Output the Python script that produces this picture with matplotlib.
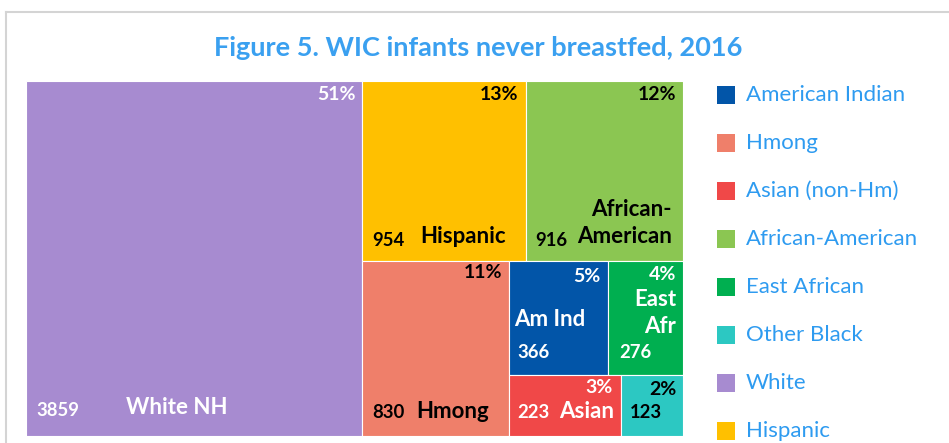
import matplotlib
matplotlib.use("Agg")
import matplotlib.pyplot as plt
from matplotlib.patches import Rectangle
from matplotlib.lines import Line2D

plt.rcParams['font.family'] = ['Lato', 'DejaVu Sans']

# data
groups = ["White", "Hispanic", "African-American", "Hmong",
          "American Indian", "East African", "Asian (non-Hm)", "Other Black"]
counts = [3859, 954, 916, 830, 366, 276, 223, 123]
box_names = ["White NH", "Hispanic", "African-\nAmerican", "Hmong",
             "Am Ind", "East\nAfr", "Asian", ""]
colors = ["#A78BD0", "#FFC000", "#8BC652", "#EF7F6A",
          "#0255A8", "#00AF50", "#F04848", "#2CC8C2"]
text_cols = ["white", "black", "black", "black",
             "white", "white", "white", "black"]
legend_order = ["American Indian", "Hmong", "Asian (non-Hm)", "African-American",
                "East African", "Other Black", "White", "Hispanic"]

FW, FH = 949, 443
fig = plt.figure(figsize=(FW / 100, FH / 100), dpi=100)

# treemap area in pixels
L, T, R, B = 26, 81, 683, 436
W, H = R - L, B - T
ax = fig.add_axes([L / FW, 1 - B / FH, W / FW, H / FH])
ax.set_xlim(0, W)
ax.set_ylim(H, 0)
ax.axis("off")

v = dict(zip(groups, counts))
total = sum(counts)

# slice layout
rects = {}
wh_w = W * v["White"] / total
rects["White"] = (0, 0, wh_w, H)
rest = total - v["White"]
top = v["Hispanic"] + v["African-American"]
top_h = H * top / rest
hisp_w = (W - wh_w) * v["Hispanic"] / top
rects["Hispanic"] = (wh_w, 0, wh_w + hisp_w, top_h)
rects["African-American"] = (wh_w + hisp_w, 0, W, top_h)
bottom = rest - top
hm_w = (W - wh_w) * v["Hmong"] / bottom
rects["Hmong"] = (wh_w, top_h, wh_w + hm_w, H)
small = bottom - v["Hmong"]
sx = wh_w + hm_w
sw = W - sx
s_top = v["American Indian"] + v["East African"]
s_top_h = (H - top_h) * s_top / small
ai_w = sw * v["American Indian"] / s_top
rects["American Indian"] = (sx, top_h, sx + ai_w, top_h + s_top_h)
rects["East African"] = (sx + ai_w, top_h, W, top_h + s_top_h)
s_bot = v["Asian (non-Hm)"] + v["Other Black"]
as_w = sw * v["Asian (non-Hm)"] / s_bot
rects["Asian (non-Hm)"] = (sx, top_h + s_top_h, sx + as_w, H)
rects["Other Black"] = (sx + as_w, top_h + s_top_h, W, H)

# label offsets: pct (from top-right), number (from bottom-left), name anchor
pct_off = {"White": (6, 14), "Hispanic": (7, 14), "African-American": (7, 14),
           "Hmong": (6, 11), "American Indian": (8, 15), "East African": (7, 13),
           "Asian (non-Hm)": (8, 13), "Other Black": (7, 15)}
num_off = {"White": (10, 26), "Hispanic": (10, 21), "African-American": (10, 21),
           "Hmong": (10, 23), "American Indian": (9, 22), "East African": (11, 22),
           "Asian (non-Hm)": (9, 23), "Other Black": (9, 24)}
# name: (x, y, ha) relative; x from left or right depending on ha
name_off = {"White": (100, 28, "left"), "Hispanic": (58, 25, "left"),
            "African-American": (11, 38, "right"), "Hmong": (54, 24, "left"),
            "American Indian": (6, 55, "left"), "East African": (7, 62, "right"),
            "Asian (non-Hm)": (7, 25, "right"), "Other Black": (0, 0, "left")}

for g, c, tc, nm in zip(groups, colors, text_cols, box_names):
    x0, y0, x1, y1 = rects[g]
    ax.add_patch(Rectangle((x0, y0), x1 - x0, y1 - y0, facecolor=c,
                           edgecolor="white", linewidth=0.8))
    pct = round(v[g] / total * 100)
    px, py = pct_off[g]
    ax.text(x1 - px, y0 + py, f"{pct}%", ha="right", va="center",
            color=tc, fontsize=14, fontweight="bold")
    nx, ny = num_off[g]
    ax.text(x0 + nx, y1 - ny, f"{v[g]}", ha="left", va="center",
            color=tc, fontsize=13.3, fontweight="bold")
    if nm:
        ox, oy, ha = name_off[g]
        xx = x0 + ox if ha == "left" else x1 - ox
        ax.text(xx, y1 - oy, nm, ha=ha, va="center", color=tc,
                fontsize=16, fontweight="bold", linespacing=1.35)

# title
blue = "#2E9BF0"
fig.text(478 / FW, 1 - 48 / FH, "Figure 5. WIC infants never breastfed, 2016",
         ha="center", va="center", color="#3AA0F0", fontsize=19.5,
         fontweight="bold")

# legend
gcol = dict(zip(groups, colors))
for i, g in enumerate(legend_order):
    yc = 95 + 48 * i
    fig.patches.append(Rectangle((717 / FW, 1 - (yc + 9) / FH), 18 / FW, 18 / FH,
                                 facecolor=gcol[g], edgecolor="none",
                                 transform=fig.transFigure))
    fig.text(746 / FW, 1 - yc / FH, g, ha="left", va="center",
             color=blue, fontsize=16)

# frame of the chart box
fig.add_artist(Line2D([6 / FW, 6 / FW], [0, 1 - 12 / FH],
                      color="#D4D4D4", linewidth=1.5))
fig.add_artist(Line2D([6 / FW, 1], [1 - 12 / FH, 1 - 12 / FH],
                      color="#D4D4D4", linewidth=1.5))

fig.savefig("out.png", dpi=100, facecolor="white")
